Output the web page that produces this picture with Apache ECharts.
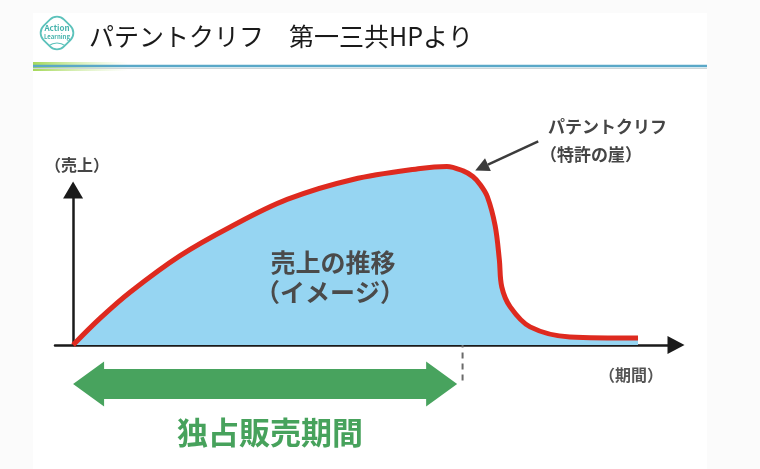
<!DOCTYPE html>
<html>
<head>
<meta charset="utf-8">
<script src="https://cdn.jsdelivr.net/npm/echarts@6/dist/echarts.min.js"></script>
<style>
  html, body { margin: 0; padding: 0; background: #fbfbfb; }
  #chart { width: 760px; height: 469px; }
</style>
</head>
<body>
<div id="chart"></div>
<script>
// 売上の推移（イメージ）: 期間 / 売上 (y軸の矢印先端 = 100)
const periodValues = [0, 4.5, 9.5, 17.7, 26.0, 35.5, 46.4, 57.6, 62.0, 64.7, 66.3, 67.5, 68.7, 70.0, 70.7, 71.1, 72.5, 75.8, 82.4, 93.7];
const salesValues = [0, 17.3, 34.2, 57.5, 76.0, 93.9, 106.8, 113.9, 115.2, 112.3, 108.7, 103.6, 95.8, 77.0, 55.0, 37.5, 24.6, 11.7, 5.2, 4.5];

// 特許切れ（点線）と独占販売期間
const patentExpiry = [64.6, 108.7];
const exclusivePeriod = [0, 63.7];
const cliffPoint = [66.7, 112.6];

const titleText = "パテントクリフ　第一三共HPより";
const yAxisName = "（売上）";
const xAxisName = "（期間）";
const cliffLabel = ["パテントクリフ", "（特許の崖）"];
const curveLabel = ["売上の推移", "（イメージ）"];
const periodLabel = "独占販売期間";

const FONT = '"Noto Sans CJK JP", "Noto Sans", sans-serif';

const chart = echarts.init(document.getElementById("chart"));

const curveData = periodValues.map((x, i) => [x, salesValues[i]]);

function txt(text, x, y, size, color, align, weight) {
  return {
    type: "text",
    x: x,
    y: y,
    z: 20,
    silent: true,
    style: {
      text: text,
      font: (weight || "bold") + " " + size + "px " + FONT,
      fill: color,
      textAlign: align || "center",
      textVerticalAlign: "middle"
    }
  };
}

let option = {
  backgroundColor: "#fbfbfb",
  animation: false,
  title: {
    text: titleText,
    left: 84,
    top: 19,
    textStyle: {
      fontFamily: FONT,
      fontSize: 25,
      fontWeight: "normal",
      color: "#1a1a1a"
    }
  },
  grid: {
    left: 55,
    right: 84,
    top: 190,
    bottom: 124
  },
  xAxis: {
    type: "value",
    min: -3,
    max: 100,
    axisLine: {
      show: true,
      onZero: true,
      symbol: ["none", "triangle"],
      symbolSize: [18, 17],
      lineStyle: { color: "#1a1a1a", width: 2.5 }
    },
    axisTick: { show: false },
    axisLabel: { show: false },
    splitLine: { show: false }
  },
  yAxis: {
    type: "value",
    min: 0,
    max: 100,
    axisLine: {
      show: true,
      onZero: true,
      symbol: ["none", "triangle"],
      symbolSize: [20, 17],
      lineStyle: { color: "#1a1a1a", width: 2.5 }
    },
    axisTick: { show: false },
    axisLabel: { show: false },
    splitLine: { show: false }
  },
  graphic: [
    // white slide panel
    { type: "rect", z: -10, silent: true, shape: { x: 33, y: 13, width: 674, height: 460 }, style: { fill: "#ffffff" } },
    // title underline
    {
      type: "rect", z: 1, silent: true,
      shape: { x: 33, y: 62, width: 95, height: 9 },
      style: {
        fill: new echarts.graphic.LinearGradient(0, 0, 1, 0, [
          { offset: 0, color: "rgba(160,214,80,0.95)" },
          { offset: 1, color: "rgba(200,235,150,0)" }
        ])
      }
    },
    { type: "line", z: 2, silent: true, shape: { x1: 33, y1: 66, x2: 707, y2: 66 }, style: { stroke: "#5aa8c8", lineWidth: 2.5 } },
    { type: "line", z: 2, silent: true, shape: { x1: 33, y1: 68.5, x2: 707, y2: 68.5 }, style: { stroke: "#cfd6d8", lineWidth: 1 } },
    // logo
    {
      type: "group", x: 57, y: 33, z: 5, silent: true,
      children: [
        { type: "rect", rotation: Math.PI / 4, shape: { x: -14.5, y: -14.5, width: 29, height: 29, r: 10 }, style: { fill: "#ffffff", stroke: "#5cc2bb", lineWidth: 1.8 } },
        { type: "text", style: { text: "Action", x: 0, y: -5, font: "bold 8px " + FONT, fill: "#45b3ad", textAlign: "center", textVerticalAlign: "middle" } },
        { type: "text", style: { text: "Learning", x: 0, y: 4, font: "bold 6px " + FONT, fill: "#45b3ad", textAlign: "center", textVerticalAlign: "middle" } },
        { type: "arc", shape: { cx: 0, cy: 24, r: 14, startAngle: Math.PI * 1.3, endAngle: Math.PI * 1.7 }, style: { stroke: "#5cc2bb", lineWidth: 1.2, fill: null } }
      ]
    },
    // labels
    txt(yAxisName, 77, 165, 16, "#454545"),
    txt(xAxisName, 631, 375, 16, "#555555"),
    txt(cliffLabel[0], 548, 127, 17, "#454545", "left"),
    txt(cliffLabel[1], 540, 155, 17, "#454545", "left"),
    txt(curveLabel[0], 333, 262, 25, "#4a4a4a"),
    txt(curveLabel[1], 330, 292, 25, "#4a4a4a"),
    txt(periodLabel, 270, 432, 31, "#47a25c")
  ],
  series: [
    {
      name: "売上",
      type: "line",
      data: curveData,
      smooth: 0.35,
      symbol: "none",
      clip: false,
      z: 3,
      lineStyle: { color: "#de2a1f", width: 5 },
      areaStyle: { color: "#96d5f2", opacity: 1 },
      silent: true
    },
    {
      // 特許切れの点線
      name: "特許切れ",
      type: "custom",
      data: [patentExpiry],
      encode: { x: 0, y: 1 },
      clip: false,
      z: 2,
      silent: true,
      renderItem: function (params, api) {
        const top = api.coord([api.value(0), api.value(1)]);
        const axisY = api.coord([api.value(0), 0])[1];
        return {
          type: "line",
          shape: { x1: top[0], y1: top[1], x2: top[0], y2: axisY + 36 },
          style: { stroke: "#6a6a6a", lineWidth: 2, lineDash: [6, 5] }
        };
      }
    },
    {
      // 独占販売期間の矢印
      name: "独占販売期間",
      type: "custom",
      data: [exclusivePeriod],
      encode: { x: [0, 1] },
      clip: false,
      z: 4,
      silent: true,
      renderItem: function (params, api) {
        const a = api.coord([api.value(0), 0]);
        const b = api.coord([api.value(1), 0]);
        const y = a[1] + 39;
        const t = 15, hw = 22.5, hl = 31;
        return {
          type: "polygon",
          shape: {
            points: [
              [a[0], y], [a[0] + hl, y - hw], [a[0] + hl, y - t], [b[0] - hl, y - t],
              [b[0] - hl, y - hw], [b[0], y], [b[0] - hl, y + hw], [b[0] - hl, y + t],
              [a[0] + hl, y + t], [a[0] + hl, y + hw]
            ]
          },
          style: { fill: "#48a35e" }
        };
      }
    },
    {
      // パテントクリフを指す矢印
      name: "パテントクリフ",
      type: "custom",
      data: [cliffPoint],
      encode: { x: 0, y: 1 },
      clip: false,
      z: 5,
      silent: true,
      renderItem: function (params, api) {
        const tip = api.coord([api.value(0), api.value(1)]);
        const tail = [tip[0] + 63, tip[1] - 29];
        const dx = tip[0] - tail[0], dy = tip[1] - tail[1];
        const len = Math.sqrt(dx * dx + dy * dy);
        const ux = dx / len, uy = dy / len;
        const nx = -uy, ny = ux;
        const base = [tip[0] - 14 * ux, tip[1] - 14 * uy];
        return {
          type: "group",
          children: [
            { type: "line", shape: { x1: tail[0], y1: tail[1], x2: base[0], y2: base[1] }, style: { stroke: "#3c3c3c", lineWidth: 2.5 } },
            {
              type: "polygon",
              shape: { points: [tip, [base[0] + 7 * nx, base[1] + 7 * ny], [base[0] - 7 * nx, base[1] - 7 * ny]] },
              style: { fill: "#3c3c3c" }
            }
          ]
        };
      }
    }
  ]
};

chart.setOption(option);
</script>
</body>
</html>
